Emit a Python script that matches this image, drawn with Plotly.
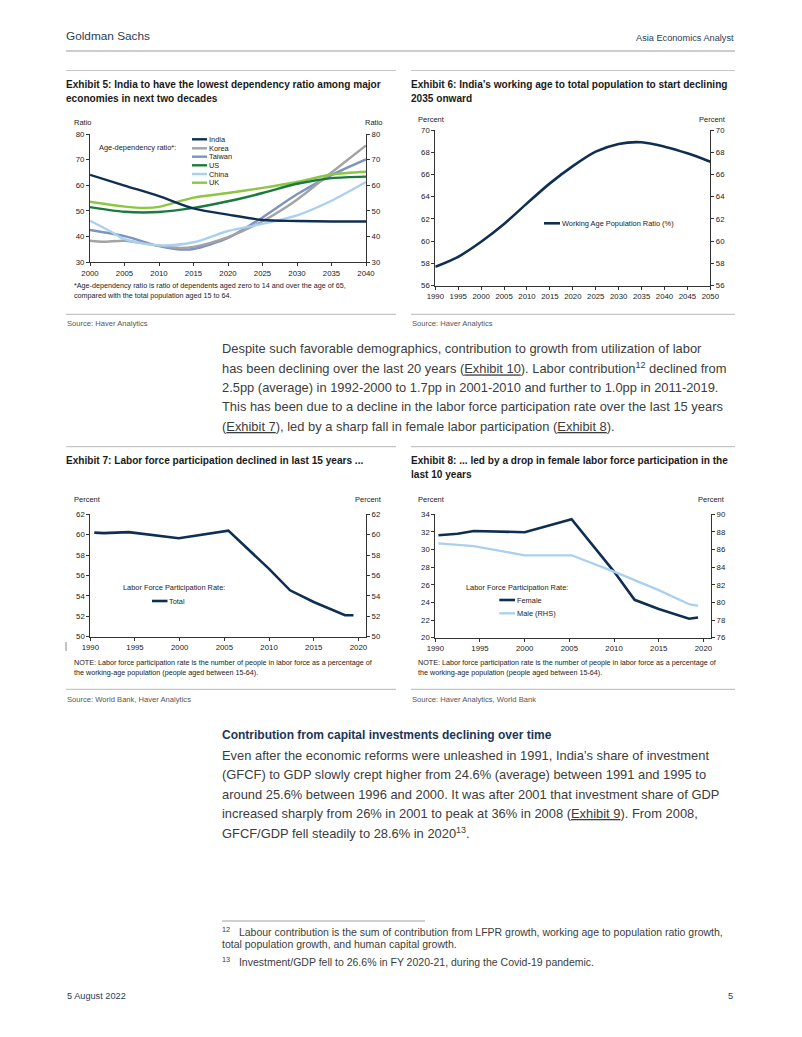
import plotly.graph_objects as go

W, H = 802, 1037

# ---------------- DATA ----------------
# Exhibit 5: age-dependency ratio
ex5_years = [2000, 2005, 2010, 2015, 2020, 2025, 2030, 2035, 2040]
india = [64.1, 59.9, 55.8, 51.0, 48.6, 46.5, 46.1, 45.9, 45.9]
korea_years = [2000, 2002, 2005, 2010, 2013, 2015, 2020, 2025, 2030, 2035, 2040]
korea = [38.4, 38.0, 38.4, 36.5, 35.6, 36.0, 39.8, 46.0, 54.4, 65.0, 75.5]
taiwan_years = [2000, 2005, 2010, 2013, 2015, 2020, 2025, 2030, 2035, 2040]
taiwan = [42.6, 40.2, 36.3, 35.0, 35.2, 39.5, 47.5, 56.5, 64.0, 70.1]
us = [51.5, 49.7, 49.6, 51.2, 53.8, 57.0, 60.6, 62.8, 63.4]
china_years = [2000, 2003, 2005, 2010, 2015, 2020, 2025, 2030, 2035, 2040]
china = [46.2, 42.0, 39.0, 36.6, 37.8, 42.2, 45.0, 48.3, 54.0, 61.3]
uk_years = [2000, 2005, 2008, 2010, 2015, 2020, 2025, 2030, 2035, 2040]
uk = [53.6, 51.7, 51.2, 51.6, 55.2, 57.0, 59.0, 61.3, 64.2, 65.3]
ex5_names = ["India", "Korea", "Taiwan", "US", "China", "UK"]
ex5_colors = ["#0f2f52", "#a3a3a3", "#7d93c0", "#1b7a3e", "#a9d1ef", "#8dc641"]

# Exhibit 6: working age population ratio (%)
ex6_years = [1990, 1995, 2000, 2005, 2010, 2015, 2020, 2025, 2030, 2035, 2040, 2045, 2050]
ex6_ratio = [57.7, 58.6, 59.95, 61.55, 63.4, 65.2, 66.75, 68.05, 68.75, 68.9, 68.5, 67.9, 67.15]

# Exhibit 7: labour force participation rate, total
ex7_x = [1990.45, 1991.5, 1994.3, 1999.9, 2005.45, 2010.0, 2012.35, 2015.0, 2018.5, 2019.45]
ex7_total = [60.2, 60.15, 60.25, 59.65, 60.4, 56.65, 54.55, 53.4, 52.1, 52.1]

# Exhibit 8: female (LHS) and male (RHS)
ex8_fx = [1990.35, 1992.5, 1994.3, 2000.0, 2005.25, 2010.0, 2012.3, 2015.0, 2018.4, 2019.4]
ex8_female = [31.62, 31.8, 32.1, 31.97, 33.45, 27.5, 24.3, 23.25, 22.15, 22.3]
ex8_mx = [1990.35, 1994.3, 2000.0, 2005.25, 2010.0, 2012.3, 2015.0, 2018.4, 2019.4]
ex8_male = [86.7, 86.4, 85.35, 85.35, 83.5, 82.55, 81.4, 79.8, 79.6]

NAVY = "#0f2f52"
LIGHT = "#a9d1ef"

NARROW = "Liberation Sans Narrow, Arial Narrow, Liberation Sans, Arial, sans-serif"
SANS = "Liberation Sans, Arial, sans-serif"

def px(x):
    return x / W

def py(y):
    return 1 - y / H

fig = go.Figure()

# ---------------- traces ----------------
ex5_x = [ex5_years, korea_years, taiwan_years, ex5_years, china_years, uk_years]
ex5_y = [india, korea, taiwan, us, china, uk]
for i in [2, 1, 4, 5, 3, 0]:
    fig.add_trace(go.Scatter(x=ex5_x[i], y=ex5_y[i], mode="lines", name=ex5_names[i],
                             line=dict(color=ex5_colors[i], width=2.4, shape="spline", smoothing=0.8),
                             xaxis="x", yaxis="y", showlegend=False))
# invisible copies on the right-hand axes so that those axes are drawn
fig.add_trace(go.Scatter(x=ex5_years, y=india, mode="lines", opacity=0, hoverinfo="skip",
                         line=dict(width=0), xaxis="x", yaxis="y2", showlegend=False))

fig.add_trace(go.Scatter(x=ex6_years, y=ex6_ratio, mode="lines", name="Working Age Population Ratio (%)",
                         line=dict(color=NAVY, width=2.6, shape="spline", smoothing=0.8),
                         xaxis="x2", yaxis="y3", showlegend=False))
fig.add_trace(go.Scatter(x=ex6_years, y=ex6_ratio, mode="lines", opacity=0, hoverinfo="skip",
                         line=dict(width=0), xaxis="x2", yaxis="y4", showlegend=False))

fig.add_trace(go.Scatter(x=ex7_x, y=ex7_total, mode="lines", name="Total",
                         line=dict(color=NAVY, width=2.6), xaxis="x3", yaxis="y5", showlegend=False))
fig.add_trace(go.Scatter(x=ex7_x, y=ex7_total, mode="lines", opacity=0, hoverinfo="skip",
                         line=dict(width=0), xaxis="x3", yaxis="y6", showlegend=False))

fig.add_trace(go.Scatter(x=ex8_mx, y=ex8_male, mode="lines", name="Male (RHS)",
                         line=dict(color=LIGHT, width=2.3), xaxis="x4", yaxis="y8", showlegend=False))
fig.add_trace(go.Scatter(x=ex8_fx, y=ex8_female, mode="lines", name="Female",
                         line=dict(color=NAVY, width=2.6), xaxis="x4", yaxis="y7", showlegend=False))

# ---------------- axes ----------------
TICKF = dict(family=SANS, size=7.8, color="#222")
AXC = "#333"

def xax(x0, x1, rng, tick0, dtick, anchor):
    return dict(domain=[px(x0), px(x1)], range=rng, dtick=dtick, tick0=tick0,
                showline=True, linecolor=AXC, linewidth=1, ticks="outside", ticklen=3,
                tickcolor=AXC, showgrid=False, zeroline=False, tickfont=TICKF, anchor=anchor,
                fixedrange=True, automargin=False)

def yax(y0, y1, rng, dtick, anchor, side="left", overlaying=None):
    d = dict(domain=[py(y1), py(y0)], range=rng, dtick=dtick, tick0=rng[0], showline=True,
             linecolor=AXC, linewidth=1, ticks="outside", ticklen=3, tickcolor=AXC,
             showgrid=False, zeroline=False, tickfont=TICKF, anchor=anchor, side=side,
             fixedrange=True, automargin=False)
    if overlaying:
        d["overlaying"] = overlaying
    return d

E5 = (90, 366, 134, 262.3)
E6 = (435.3, 710.3, 130, 285.7)
E7 = (90.3, 366, 514.3, 636.7)
E8 = (435.3, 711, 514.3, 637.7)

fig.update_layout(
    xaxis=xax(E5[0], E5[1], [2000, 2040], 2000, 5, "y"),
    yaxis=yax(E5[2], E5[3], [30, 80], 10, "x"),
    yaxis2=yax(E5[2], E5[3], [30, 80], 10, "x", "right", "y"),
    xaxis2=xax(E6[0], E6[1], [1990, 2050], 1990, 5, "y3"),
    yaxis3=yax(E6[2], E6[3], [56, 70], 2, "x2"),
    yaxis4=yax(E6[2], E6[3], [56, 70], 2, "x2", "right", "y3"),
    xaxis3=xax(E7[0], E7[1], [1990, 2020.85], 1990, 5, "y5"),
    yaxis5=yax(E7[2], E7[3], [50, 62], 2, "x3"),
    yaxis6=yax(E7[2], E7[3], [50, 62], 2, "x3", "right", "y5"),
    xaxis4=xax(E8[0], E8[1], [1990, 2020.85], 1990, 5, "y7"),
    yaxis7=yax(E8[2], E8[3], [20, 34], 2, "x4"),
    yaxis8=yax(E8[2], E8[3], [76, 90], 2, "x4", "right", "y7"),
)

# ---------------- text & shapes ----------------
annotations = []
shapes = []

def ann(text, x, y, size=9, color="#222", family=SANS, xanchor="left", yanchor="middle", weight="normal"):
    annotations.append(dict(text=text, x=px(x), y=py(y), xref="paper", yref="paper",
                            xanchor=xanchor, yanchor=yanchor, showarrow=False, borderpad=0,
                            font=dict(size=size, color=color, family=family, weight=weight)))

def hline(x0, x1, y, color="#c6c6c6", width=1.2):
    shapes.append(dict(type="line", xref="paper", yref="paper", x0=px(x0), x1=px(x1),
                       y0=py(y), y1=py(y), line=dict(color=color, width=width)))

def key(x0, x1, y, color, width):
    shapes.append(dict(type="line", xref="paper", yref="paper", x0=px(x0), x1=px(x1),
                       y0=py(y), y1=py(y), line=dict(color=color, width=width)))

# header
ann("Goldman Sachs", 65, 36, 11.8, "#2c3b55", NARROW)
ann("Asia Economics Analyst", 735, 38, 9.2, "#2c3b55", NARROW, xanchor="right")
hline(66, 735, 51, "#bdbdbd", 1.3)

TITLE_C = "#1a1a1a"
TS = 10.1
hline(66, 396, 70.5)
hline(411, 735, 70.5)
ann("Exhibit 5: India to have the lowest dependency ratio among major", 65, 84.5, TS, TITLE_C, NARROW, weight="bold")
ann("economies in next two decades", 65, 99, TS, TITLE_C, NARROW, weight="bold")
ann("Exhibit 6: India\u2019s working age to total population to start declining", 410, 84.5, TS, TITLE_C, NARROW, weight="bold")
ann("2035 onward", 410, 99, TS, TITLE_C, NARROW, weight="bold")

# unit labels
UNIT = 7.5
ann("Ratio", 73, 123, UNIT)
ann("Ratio", 384, 123, UNIT, xanchor="right")
ann("Percent", 417, 120, UNIT)
ann("Percent", 727, 120, UNIT, xanchor="right")
ann("Percent", 73, 499, UNIT)
ann("Percent", 383, 499, UNIT, xanchor="right")
ann("Percent", 417, 499, UNIT)
ann("Percent", 726, 499, UNIT, xanchor="right")

# Exhibit 5 legend
LEGF = 7.4
ann("Age-dependency ratio*:", 98, 147.3, LEGF)
leg_y = [139.3, 148.3, 156.7, 165.3, 174, 182.7]
for i, yy in enumerate(leg_y):
    key(192, 207, yy, ex5_colors[i], 2.4)
    ann(ex5_names[i], 207.5, yy, LEGF)

ann("*Age-dependency ratio is ratio of dependents aged zero to 14 and over the age of 65,", 73, 286, 7.2)
ann("compared with the total population aged 15 to 64.", 73, 296, 7.2)

# Exhibit 6 legend
key(544, 560, 223.3, NAVY, 2.6)
ann("Working Age Population Ratio (%)", 560.5, 223.3, LEGF)

hline(66, 396, 314.3)
hline(411, 735, 314.3)
SRC = 7.6
ann("Source: Haver Analytics", 66, 323.5, SRC, "#555", NARROW)
ann("Source: Haver Analytics", 411, 323.5, SRC, "#555", NARROW)

# body paragraph 1
BODY = 12.9
BC = "#3c3c3c"
body1 = [
    "Despite such favorable demographics, contribution to growth from utilization of labor",
    "has been declining over the last 20 years (<u>Exhibit 10</u>). Labor contribution<sup>12</sup> declined from",
    "2.5pp (average) in 1992-2000 to 1.7pp in 2001-2010 and further to 1.0pp in 2011-2019.",
    "This has been due to a decline in the labor force participation rate over the last 15 years",
    "(<u>Exhibit 7</u>), led by a sharp fall in female labor participation (<u>Exhibit 8</u>).",
]
for i, t in enumerate(body1):
    ann(t, 221, 348 + i * 19.5, BODY, BC, SANS)

# Exhibit 7 / 8 titles
hline(66, 396, 446.7)
hline(411, 735, 446.7)
ann("Exhibit 7: Labor force participation declined in last 15 years ...", 65, 460, TS, TITLE_C, NARROW, weight="bold")
ann("Exhibit 8: ... led by a drop in female labor force participation in the", 410, 460, TS, TITLE_C, NARROW, weight="bold")
ann("last 10 years", 410, 474, TS, TITLE_C, NARROW, weight="bold")

# Exhibit 7 legend
ann("Labor Force Participation Rate:", 121.7, 587.3, LEGF)
key(152, 167.5, 601, NAVY, 2.6)
ann("Total", 168, 601, LEGF)

# Exhibit 8 legend
ann("Labor Force Participation Rate:", 465, 587.3, LEGF)
key(499.3, 515, 600, NAVY, 2.6)
ann("Female", 515.5, 600, LEGF)
key(499.3, 515, 613.3, LIGHT, 2.3)
ann("Male (RHS)", 515.5, 613.3, LEGF)

NOTE = 7.2
ann("NOTE: Labor force participation rate is the number of people in labor force as a percentage of", 73, 662, NOTE)
ann("the working-age population (people aged between 15-64).", 73, 672, NOTE)
ann("NOTE: Labor force participation rate is the number of people in labor force as a percentage of", 417, 662, NOTE)
ann("the working-age population (people aged between 15-64).", 417, 672, NOTE)

hline(66, 396, 689.3)
hline(411, 735, 689.3)
ann("Source: World Bank, Haver Analytics", 66, 699.3, SRC, "#555", NARROW)
ann("Source: Haver Analytics, World Bank", 411, 699.3, SRC, "#555", NARROW)

shapes.append(dict(type="line", xref="paper", yref="paper", x0=px(66), x1=px(66),
                   y0=py(642), y1=py(651), line=dict(color="#888", width=1)))

# section heading + paragraph 2
ann("Contribution from capital investments declining over time", 221, 735, 12.0, "#1c3557", NARROW, weight="bold")
body2 = [
    "Even after the economic reforms were unleashed in 1991, India\u2019s share of investment",
    "(GFCF) to GDP slowly crept higher from 24.6% (average) between 1991 and 1995 to",
    "around 25.6% between 1996 and 2000. It was after 2001 that investment share of GDP",
    "increased sharply from 26% in 2001 to peak at 36% in 2008 (<u>Exhibit 9</u>). From 2008,",
    "GFCF/GDP fell steadily to 28.6% in 2020<sup>13</sup>.",
]
for i, t in enumerate(body2):
    ann(t, 221, 755 + i * 19.5, BODY, BC, SANS)

# footnotes
hline(222, 425, 921, "#888", 0.8)
FN = 10.5
ann("<sup>12</sup>   Labour contribution is the sum of contribution from LFPR growth, working age to population ratio growth,",
    221, 931.5, FN, BC, SANS)
ann("total population growth, and human capital growth.", 221, 944, FN, BC, SANS)
ann("<sup>13</sup>   Investment/GDP fell to 26.6% in FY 2020-21, during the Covid-19 pandemic.", 221, 961.5, FN, BC, SANS)

# footer
ann("5 August 2022", 66, 996, 9.2, "#2c3b55", NARROW)
ann("5", 734, 996, 9.2, "#2c3b55", NARROW, xanchor="right")

fig.update_layout(
    width=W, height=H, margin=dict(l=0, r=0, t=0, b=0, autoexpand=False),
    paper_bgcolor="white", plot_bgcolor="white",
    annotations=annotations, shapes=shapes, showlegend=False,
)

fig.write_html(
    "out.html",
    config={"displayModeBar": False},
    post_script="document.documentElement.style.margin='0';document.body.style.margin='0';"
                "document.body.style.overflow='hidden';document.documentElement.style.overflow='hidden';",
)
